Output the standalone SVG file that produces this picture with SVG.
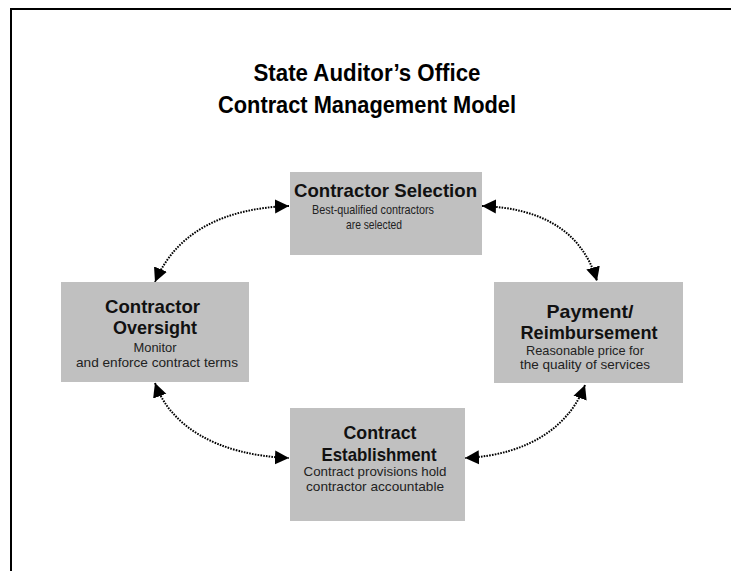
<svg xmlns="http://www.w3.org/2000/svg" width="731" height="571" viewBox="0 0 731 571">
<style>
.box{fill:#c0c0c0;}
.t{font-family:"Liberation Sans",Arial,sans-serif;font-weight:bold;font-size:18.5px;fill:#111;text-anchor:middle;}
.s{font-family:"Liberation Sans",Arial,sans-serif;font-size:13px;fill:#222;text-anchor:middle;}
.h{font-family:"Liberation Sans",Arial,sans-serif;font-weight:bold;font-size:23px;fill:#000;text-anchor:middle;}
.c{fill:none;stroke:#000;stroke-width:2;stroke-dasharray:1.6 1.2;marker-start:url(#ah);marker-end:url(#ah);}
</style>
<defs>
<marker id="ah" markerUnits="userSpaceOnUse" markerWidth="15" markerHeight="15" refX="14" refY="7" orient="auto-start-reverse" viewBox="0 0 15 14">
<path d="M0,0 L14,7 L0,14 z" fill="#000"/>
</marker>
</defs>
<rect width="731" height="571" fill="#fff"/>
<path d="M11,571 V9 H731" fill="none" stroke="#000" stroke-width="2"/>
<g id="title">
<text class="h" x="367" y="81" textLength="227" lengthAdjust="spacingAndGlyphs">State Auditor’s Office</text>
<text class="h" x="367" y="113" textLength="298" lengthAdjust="spacingAndGlyphs">Contract Management Model</text>
</g>
<g id="connectors">
<path class="c" d="M289,206 C230,208 178,228 155,282"/>
<path class="c" d="M482,206 C540,208 582,230 597,281"/>
<path class="c" d="M155,383 C170,425 215,455 289,458"/>
<path class="c" d="M585,385 C570,425 530,455 465,458"/>
</g>
<g id="selection">
<rect class="box" x="290" y="172" width="192" height="83"/>
<text class="t" x="385.5" y="197" textLength="183" lengthAdjust="spacingAndGlyphs">Contractor Selection</text>
<text class="s" x="373" y="214" textLength="122" lengthAdjust="spacingAndGlyphs">Best-qualified contractors</text>
<text class="s" x="374" y="229" textLength="56" lengthAdjust="spacingAndGlyphs">are selected</text>
</g>
<g id="oversight">
<rect class="box" x="61" y="282" width="188" height="100"/>
<text class="t" x="152.5" y="313" textLength="95" lengthAdjust="spacingAndGlyphs">Contractor</text>
<text class="t" x="155" y="334" textLength="84" lengthAdjust="spacingAndGlyphs">Oversight</text>
<text class="s" x="155" y="352" textLength="43" lengthAdjust="spacingAndGlyphs">Monitor</text>
<text class="s" x="157" y="367" textLength="162" lengthAdjust="spacingAndGlyphs">and enforce contract terms</text>
</g>
<g id="payment">
<rect class="box" x="494" y="282" width="189" height="101"/>
<text class="t" x="590" y="318" textLength="87" lengthAdjust="spacingAndGlyphs">Payment/</text>
<text class="t" x="589" y="339" textLength="137" lengthAdjust="spacingAndGlyphs">Reimbursement</text>
<text class="s" x="585" y="355" textLength="118" lengthAdjust="spacingAndGlyphs">Reasonable price for</text>
<text class="s" x="585" y="369" textLength="130" lengthAdjust="spacingAndGlyphs">the quality of services</text>
</g>
<g id="establishment">
<rect class="box" x="290" y="408" width="175" height="113"/>
<text class="t" x="380" y="439" textLength="73" lengthAdjust="spacingAndGlyphs">Contract</text>
<text class="t" x="379" y="461" textLength="115" lengthAdjust="spacingAndGlyphs">Establishment</text>
<text class="s" x="375" y="476" textLength="143" lengthAdjust="spacingAndGlyphs">Contract provisions hold</text>
<text class="s" x="375" y="491" textLength="138" lengthAdjust="spacingAndGlyphs">contractor accountable</text>
</g>
</svg>
